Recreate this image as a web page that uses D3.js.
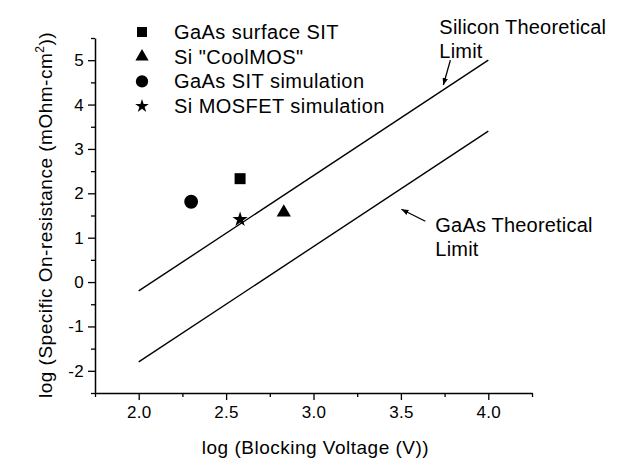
<!DOCTYPE html>
<html><head><meta charset="utf-8">
<script src="https://cdn.jsdelivr.net/npm/d3@7/dist/d3.min.js"></script>
<style>
body{margin:0;background:#fff;}
svg{display:block;font-family:"Liberation Sans",Arial,Helvetica,sans-serif;}
</style></head>
<body>
<svg id="c" width="624" height="464"></svg>
<script>
// ---- data ----
const seriesNames = ["GaAs surface SIT", "Si \"CoolMOS\"", "GaAs SIT simulation", "Si MOSFET simulation"];
const seriesSymbols = ["square", "triangle", "circle", "star"];
const pointX = [2.58, 2.83, 2.30, 2.58];
const pointY = [2.33, 1.57, 1.81, 1.41];
const siLimitX = [2.0, 4.0];
const siLimitY = [-0.2, 5.0];
const gaasLimitX = [2.0, 4.0];
const gaasLimitY = [-1.8, 3.4];
const xTicks = [2.0, 2.5, 3.0, 3.5, 4.0];
const xMinor = [1.75, 2.25, 2.75, 3.25, 3.75, 4.25];
const yTicks = [-2, -1, 0, 1, 2, 3, 4, 5];
const yMinor = [-2.5, -1.5, -0.5, 0.5, 1.5, 2.5, 3.5, 4.5, 5.5];

const svg = d3.select("#c");
const L = 95, R = 532, T = 38, B = 393;
const x = d3.scaleLinear().domain([1.75, 4.25]).range([L, R]);
const y = d3.scaleLinear().domain([-2.5, 5.5]).range([B, T]);

// axes
const gx = svg.append("g").attr("transform", `translate(0,${B})`);
gx.call(d3.axisBottom(x).tickValues(xTicks).tickFormat(d => d.toFixed(1)).tickSize(7).tickPadding(6).tickSizeOuter(0));
gx.append("g").call(d3.axisBottom(x).tickValues(xMinor).tickFormat("").tickSize(4).tickSizeOuter(0)).select(".domain").remove();
const gy = svg.append("g").attr("transform", `translate(${L},0)`);
gy.call(d3.axisLeft(y).tickValues(yTicks).tickFormat(d => String(d)).tickSize(7).tickPadding(4).tickSizeOuter(0));
gy.append("g").call(d3.axisLeft(y).tickValues(yMinor).tickFormat("").tickSize(4).tickSizeOuter(0)).select(".domain").remove();
svg.selectAll(".domain").attr("stroke", "#000").attr("stroke-width", 1.5);
svg.selectAll(".tick line").attr("stroke", "#000").attr("stroke-width", 1.3);
svg.selectAll(".tick text").attr("font-size", 17).attr("fill", "#000")
  .attr("font-family", "'Liberation Sans',Arial,sans-serif").attr("letter-spacing", 0.3);
gx.selectAll(".tick text").attr("dy", "0.71em");

// axis titles
svg.append("text").attr("x", (L + R) / 2 + 2).attr("y", 454).attr("text-anchor", "middle")
  .attr("font-size", 19).attr("letter-spacing", 0.5).text("log (Blocking Voltage (V))");
const yt = svg.append("text").attr("transform", `translate(52,${215}) rotate(-90)`)
  .attr("text-anchor", "middle").attr("font-size", 19).attr("letter-spacing", 0.5);
yt.append("tspan").text("log (Specific On-resistance (mOhm-cm");
yt.append("tspan").attr("font-size", 12).attr("dy", -8).text("2");
yt.append("tspan").attr("dy", 8).text("))");

// theoretical limit lines
const line = d3.line().x(d => x(d[0])).y(d => y(d[1]));
[[siLimitX, siLimitY], [gaasLimitX, gaasLimitY]].forEach(([xs, ys]) => {
  svg.append("path").attr("d", line(xs.map((v, i) => [v, ys[i]])))
    .attr("fill", "none").attr("stroke", "#000").attr("stroke-width", 1.4);
});

// symbols
const symMap = {square: d3.symbolSquare, triangle: d3.symbolTriangle, circle: d3.symbolCircle, star: d3.symbolStar};
const plotSize = {square: 121, triangle: 88, circle: 150, star: 72};
const legSize = {square: 100, triangle: 76, circle: 118, star: 58};
seriesNames.forEach((n, i) => {
  const s = seriesSymbols[i];
  svg.append("path").attr("d", d3.symbol(symMap[s], plotSize[s])())
    .attr("transform", `translate(${x(pointX[i])},${y(pointY[i])})`).attr("fill", "#000");
});

// legend
const legY0 = 32, legDy = 24.7;
seriesNames.forEach((n, i) => {
  const s = seriesSymbols[i];
  const yy = legY0 + i * legDy;
  svg.append("path").attr("d", d3.symbol(symMap[s], legSize[s])())
    .attr("transform", `translate(142,${yy})`).attr("fill", "#000");
  svg.append("text").attr("x", 174).attr("y", yy + 7).attr("font-size", 20).attr("letter-spacing", 0.45).text(n);
});

// annotations
svg.append("defs").append("marker").attr("id", "ah").attr("viewBox", "0 0 10 10")
  .attr("refX", 10).attr("refY", 5).attr("markerWidth", 7).attr("markerHeight", 7)
  .attr("markerUnits", "userSpaceOnUse").attr("orient", "auto")
  .append("path").attr("d", "M0,1 L10,5 L0,9 Z").attr("fill", "#000");
const annots = [
  {lines: ["Silicon Theoretical", "Limit"], tx: 3.72, ty: 5.6, from: [3.783, 5.0], to: [3.743, 4.44]},
  {lines: ["GaAs Theoretical", "Limit"], tx: 3.697, ty: 1.12, from: [3.64, 1.37], to: [3.503, 1.64]}
];
annots.forEach(a => {
  a.lines.forEach((t, k) => {
    svg.append("text").attr("x", x(a.tx)).attr("y", y(a.ty) + k * 24)
      .attr("font-size", 20).attr("letter-spacing", 0.2).text(t);
  });
  svg.append("line").attr("x1", x(a.from[0])).attr("y1", y(a.from[1]))
    .attr("x2", x(a.to[0])).attr("y2", y(a.to[1]))
    .attr("stroke", "#000").attr("stroke-width", 1.3).attr("marker-end", "url(#ah)");
});
</script>
</body></html>
